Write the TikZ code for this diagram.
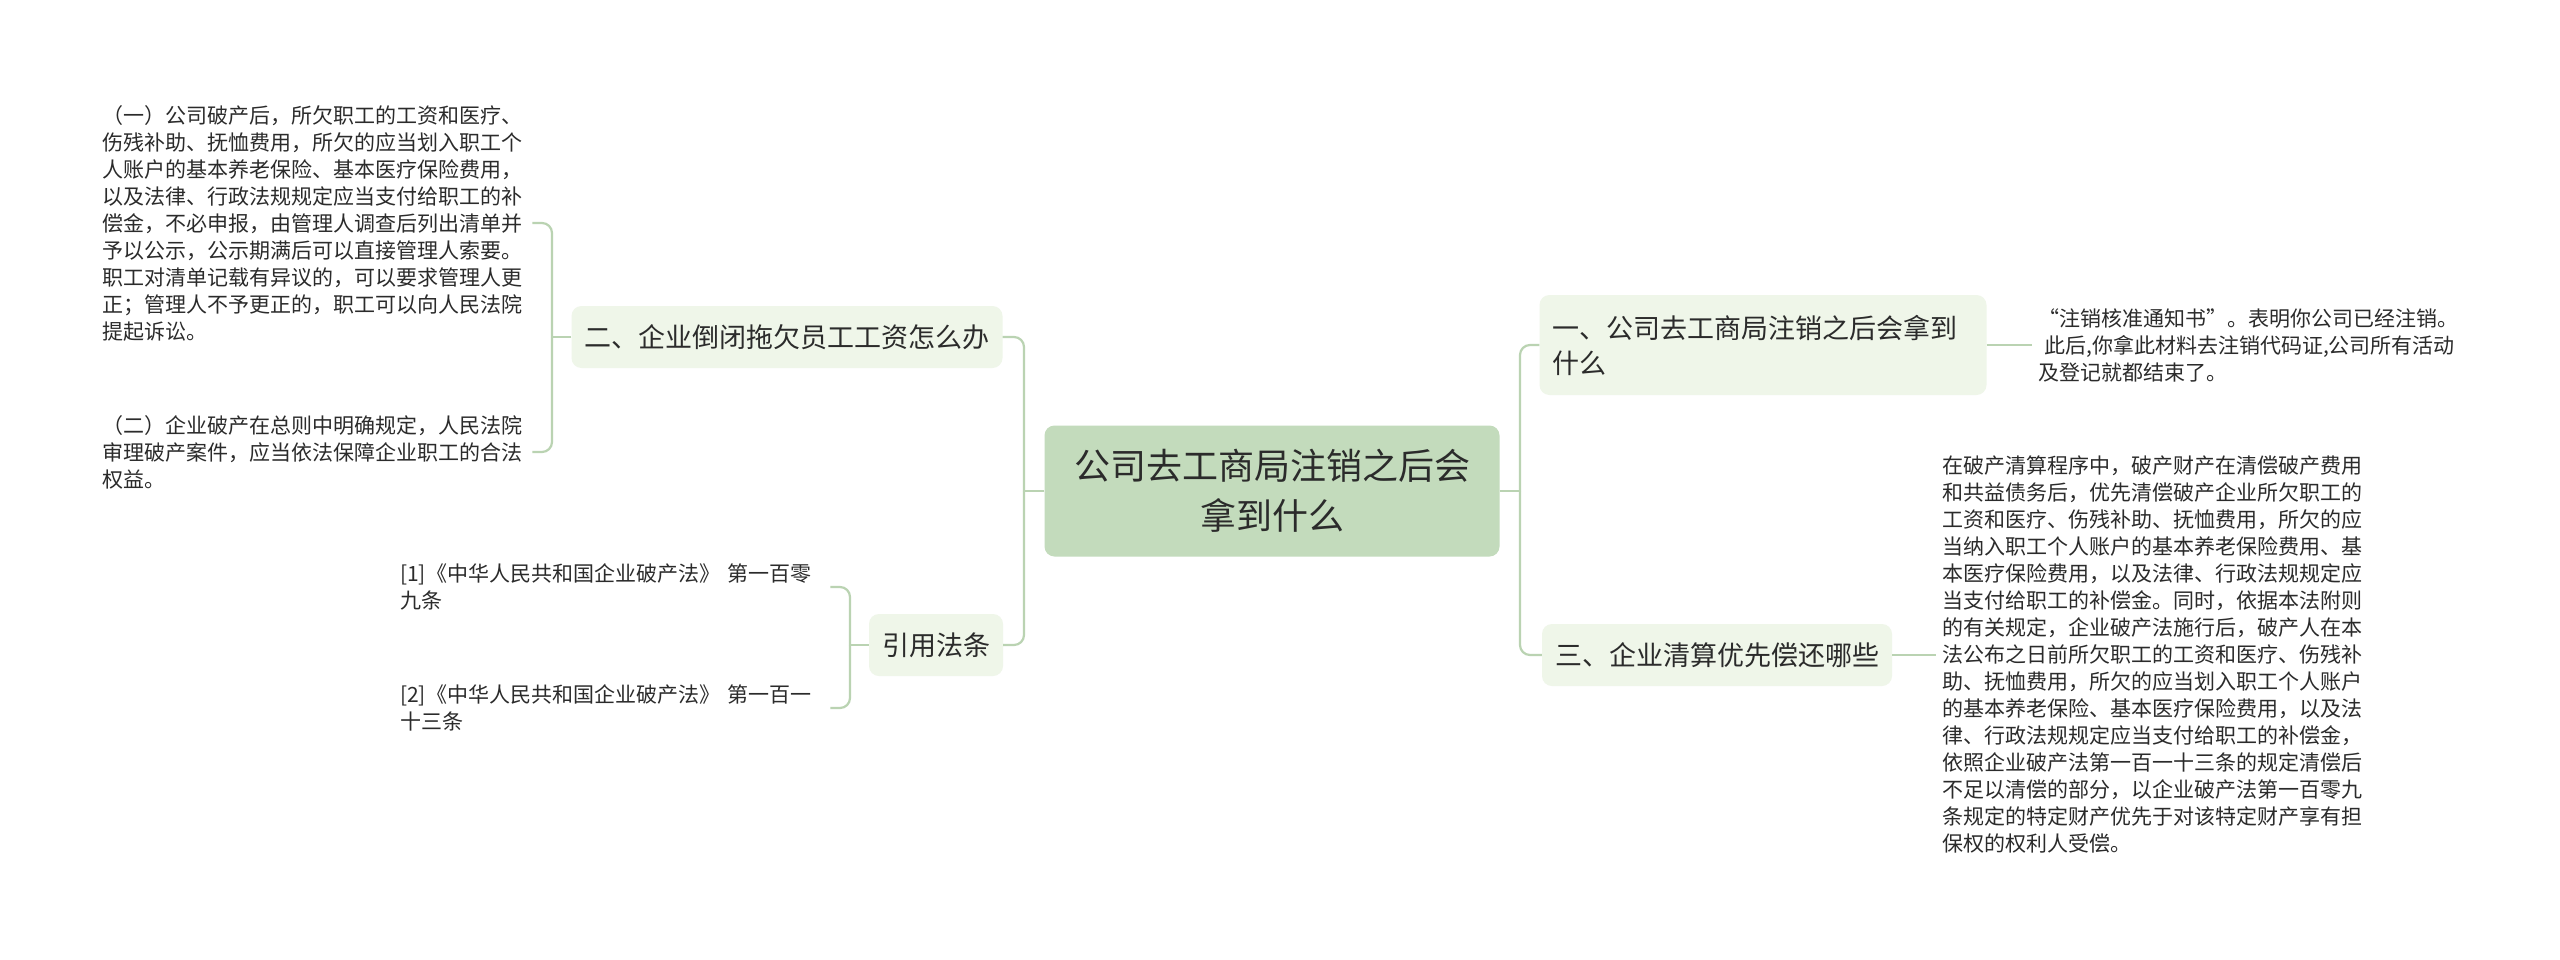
\documentclass[tikz,border=0pt]{standalone}
\usepackage{fontspec}
\setmainfont{Noto Sans CJK SC}
\definecolor{cmain}{HTML}{C3DBBC}
\definecolor{csub}{HTML}{EFF6E9}
\definecolor{cline}{HTML}{BAD3B2}
\definecolor{ctext}{HTML}{2B2B2B}
\tikzset{
  mainnode/.style={fill=cmain, rounded corners=10pt, minimum width=455pt, minimum height=131pt, align=center, font=\fontsize{36}{50}\selectfont, text=ctext, inner sep=0pt},
  subnode/.style={fill=csub, rounded corners=10pt, inner xsep=13pt, inner ysep=0pt, minimum height=62pt, font=\fontsize{27}{35}\selectfont, text=ctext, align=left},
  leaf/.style={font=\fontsize{21}{27}\selectfont, align=left, text width=424pt, inner xsep=6pt, inner ysep=2pt, text=ctext},
  conn/.style={draw=cline, line width=2.2pt},
  elbowconn/.style={conn, rounded corners=10pt},
}
\begin{document}
\begin{tikzpicture}[x=1pt,y=-1pt]
\fill[white] (0,0) rectangle (2560,959);
\useasboundingbox (0,0) rectangle (2560,959);

% main and sub nodes
\node[mainnode] (center) at (1272,491) {公司去工商局注销之后会\\拿到什么};
\node[subnode] (n2) at (787,337) {二、企业倒闭拖欠员工工资怎么办};
\node[subnode] (cite) at (936,645) {引用法条};
\node[subnode, text width=421pt, minimum height=100pt] (n1) at (1763,345) {一、公司去工商局注销之后会拿到\\什么};
\node[subnode] (n3) at (1717,655) {三、企业清算优先偿还哪些};

% leaves
\node[leaf, anchor=west] (l1) at (96,223) {（一）公司破产后，所欠职工的工资和医疗、\\伤残补助、抚恤费用，所欠的应当划入职工个\\人账户的基本养老保险、基本医疗保险费用，\\以及法律、行政法规规定应当支付给职工的补\\偿金，不必申报，由管理人调查后列出清单并\\予以公示，公示期满后可以直接管理人索要。\\职工对清单记载有异议的，可以要求管理人更\\正；管理人不予更正的，职工可以向人民法院\\提起诉讼。};
\node[leaf, anchor=west] (l2) at (96,452) {（二）企业破产在总则中明确规定，人民法院\\审理破产案件，应当依法保障企业职工的合法\\权益。};
\node[leaf, anchor=west] (c1) at (394,587) {[1]《中华人民共和国企业破产法》 第一百零\\九条};
\node[leaf, anchor=west] (c2) at (394,708) {[2]《中华人民共和国企业破产法》 第一百一\\十三条};
\node[leaf, anchor=west] (r1) at (2032,345) {“注销核准通知书”。表明你公司已经注销。\\\hspace*{6pt}此后,你拿此材料去注销代码证,公司所有活动\\及登记就都结束了。};
\node[leaf, anchor=west] (r3) at (1936,655) {在破产清算程序中，破产财产在清偿破产费用\\和共益债务后，优先清偿破产企业所欠职工的\\工资和医疗、伤残补助、抚恤费用，所欠的应\\当纳入职工个人账户的基本养老保险费用、基\\本医疗保险费用，以及法律、行政法规规定应\\当支付给职工的补偿金。同时，依据本法附则\\的有关规定，企业破产法施行后，破产人在本\\法公布之日前所欠职工的工资和医疗、伤残补\\助、抚恤费用，所欠的应当划入职工个人账户\\的基本养老保险、基本医疗保险费用，以及法\\律、行政法规规定应当支付给职工的补偿金，\\依照企业破产法第一百一十三条的规定清偿后\\不足以清偿的部分，以企业破产法第一百零九\\条规定的特定财产优先于对该特定财产享有担\\保权的权利人受偿。};

% junction coordinates
\coordinate (lt) at (1024,491);
\coordinate (rt) at (1520,491);
\coordinate (b2) at (552,337);
\coordinate (b3) at (850,645);

% connectors
\draw[conn] (center.west) -- (lt);
\draw[elbowconn] (lt) |- (n2.east);
\draw[elbowconn] (lt) |- (cite.east);
\draw[conn] (center.east) -- (rt);
\draw[elbowconn] (rt) |- (n1.west);
\draw[elbowconn] (rt) |- (n3.west);
\draw[conn] (n2.west) -- (b2);
\draw[elbowconn] (b2) |- (l1.east);
\draw[elbowconn] (b2) |- (l2.east);
\draw[conn] (cite.west) -- (b3);
\draw[elbowconn] (b3) |- (c1.east);
\draw[elbowconn] (b3) |- (c2.east);
\draw[conn] (n1.east) -- (r1.west);
\draw[conn] (n3.east) -- (r3.west);
\end{tikzpicture}
\end{document}
